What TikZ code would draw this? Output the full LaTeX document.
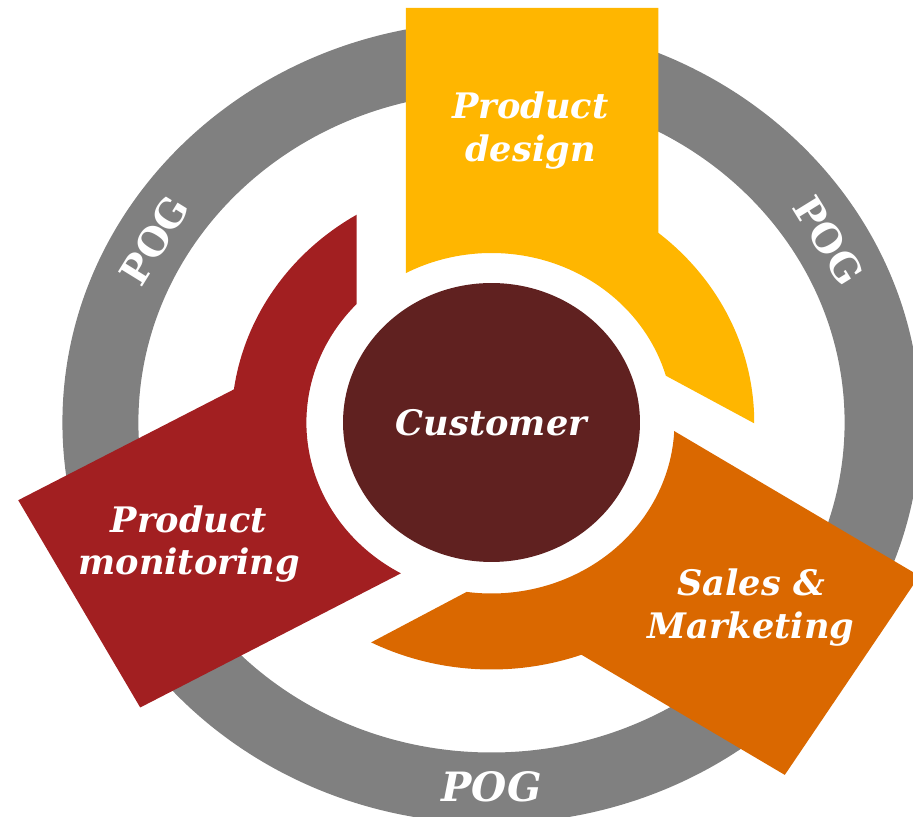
\documentclass[tikz,border=0pt]{standalone}
\usepackage{fontspec}
\setmainfont{DejaVu Serif}
\usetikzlibrary{positioning, shapes.geometric}
\definecolor{pogyellow}{HTML}{FFB600}
\definecolor{pogorange}{HTML}{DA6800}
\definecolor{pogred}{HTML}{A21F21}
\definecolor{pogdark}{HTML}{602120}
\definecolor{poggray}{HTML}{808080}

\begin{document}
\begin{tikzpicture}[x=0.02cm, y=0.02cm,
    label/.style={font=\fontsize{20}{24}\selectfont\bfseries\itshape, text=white, align=center},
    pog/.style={font=\fontsize{22}{26}\selectfont\bfseries, text=white}]
    \useasboundingbox (-491.5,-394.5) rectangle (421.5,422.5);
    \clip (-491.5,-394.5) rectangle (421.5,422.5);
    \begin{scope}[xscale=1.07]
        % Outer ring
        \fill[poggray, even odd rule] (0,0) circle (401) (0,0) circle (330);
        % Product design segment
        \fill[pogyellow] (-80,149.43) -- (-80,414.5) -- (156,414.5) -- (156,189.6)
            arc[start angle=50.56, end angle=-0.2, radius=245.5] -- (16.03:169.5)
            arc[start angle=16.03, end angle=118.16, radius=169.5] -- cycle;
        % Sales and marketing segment
        \fill[pogorange] (-2.88:171) -- (399.9,-153.4) -- (274.1,-352.4) -- (-70.1:247)
            arc[start angle=-70.1, end angle=-117.09, radius=247] -- (-97.81:171)
            arc[start angle=-97.81, end angle=-2.88, radius=171] -- cycle;
        % Product monitoring segment
        \fill[pogred] (136.74:173) arc[start angle=136.74, end angle=240.7, radius=173]
            -- (-328.3,-285.0) -- (-442.3,-77.7) -- (172.17:243)
            arc[start angle=172.17, end angle=121.23, radius=243] -- cycle;
        % Ring labels
        \node[pog, rotate=58.3] (g1) at (150:364) {POG};
        \node[pog, rotate=-58.3] (g2) at (30:364) {POG};
        \node[pog, font=\fontsize{23}{27}\selectfont\bfseries\itshape] (g3) at (270:364) {POG};
    \end{scope}
    % Centre
    \node[ellipse, fill=pogdark, inner sep=0pt, minimum width=5.94cm, minimum height=5.58cm, label] (cust) at (0,0) {Customer};
    % Segment labels
    \node[label] (s1) at (39,292) {Product\\design};
    \node[label] (s2) at (259.5,-185) {Sales \&\\Marketing};
    \node[label] (s3) at (-302.5,-121.5) {Product\\monitoring};
\end{tikzpicture}
\end{document}
